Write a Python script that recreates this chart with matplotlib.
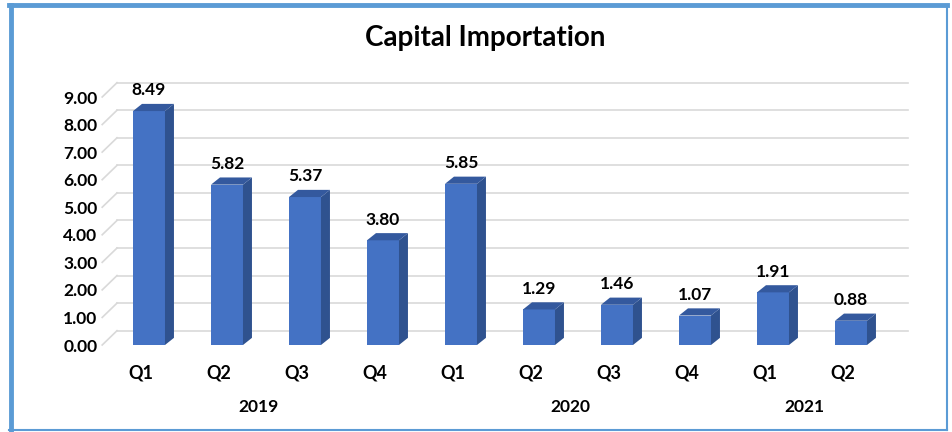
import matplotlib.pyplot as plt
from matplotlib.patches import Polygon
from matplotlib.lines import Line2D

plt.rcParams['font.family'] = ['Lato', 'DejaVu Sans']

# data
quarters = ['Q1', 'Q2', 'Q3', 'Q4', 'Q1', 'Q2', 'Q3', 'Q4', 'Q1', 'Q2']
values = [8.49, 5.82, 5.37, 3.80, 5.85, 1.29, 1.46, 1.07, 1.91, 0.88]
years = ['2019', '2020', '2021']
year_first = [0, 4, 8]
year_last = [3, 7, 9]
y_ticks = [0, 1, 2, 3, 4, 5, 6, 7, 8, 9]

# colours / 3d look
front_col = '#4472C4'
side_col = '#2F528F'
top_col = '#34599E'
grid_col = '#D9D9D9'
bar_w = 0.41
bar_dx, bar_dy = 0.115, 0.26     # depth of a bar, in data units
wall_dx, wall_dy = 0.19, 0.52    # depth of the back wall

fig = plt.figure(figsize=(9.52, 4.32), dpi=100)
ax = fig.add_axes([110 / 952, 87 / 432, 780 / 952, 248 / 432])
ax.set_xlim(-0.5, 9.5)
ax.set_ylim(0, 9)
for s in ax.spines.values():
    s.set_visible(False)

# back wall gridlines with the slanted floor ticks
x_front = -0.6
x_back = x_front + wall_dx
for t in y_ticks:
    ax.add_line(Line2D([x_back, 9.73], [t + wall_dy, t + wall_dy], color=grid_col,
                       lw=1.2, clip_on=False, zorder=1))
    ax.add_line(Line2D([x_front, x_back], [t, t + wall_dy], color=grid_col,
                       lw=1.2, clip_on=False, zorder=1))

# bars: front face, side face and top face
xs = list(range(len(values)))
ax.bar(xs, values, width=bar_w, color=front_col, zorder=3)
for x, v in zip(xs, values):
    r = x + bar_w / 2
    l = x - bar_w / 2
    side = [(r, 0), (r + bar_dx, bar_dy), (r + bar_dx, v + bar_dy), (r, v)]
    top = [(l, v), (r, v), (r + bar_dx, v + bar_dy), (l + bar_dx, v + bar_dy)]
    ax.add_patch(Polygon(side, closed=True, facecolor=side_col, edgecolor='none', zorder=3))
    ax.add_patch(Polygon(top, closed=True, facecolor=top_col, edgecolor='none', zorder=3))
    ax.annotate(f'{v:.2f}', xy=(x, v + bar_dy), xytext=(0, 4), textcoords='offset points',
                ha='center', va='bottom', fontsize=12.5, fontweight='bold')

# axis labels
ax.set_yticks(y_ticks)
ax.set_yticklabels([f'{t:.2f}' for t in y_ticks], fontsize=12.5, fontweight='bold')
ax.tick_params(axis='y', length=0, pad=9)
ax.set_xticks([])

for x, q in zip(xs, quarters):
    ax.annotate(q, xy=(x - 0.1, 0), xycoords=('data', 'axes fraction'),
                xytext=(0, -20), textcoords='offset points',
                ha='center', va='center', fontsize=13, fontweight='bold')
for yr, a, b in zip(years, year_first, year_last):
    ax.annotate(yr, xy=((a + b) / 2 - 0.1, 0), xycoords=('data', 'axes fraction'),
                xytext=(0, -45), textcoords='offset points',
                ha='center', va='center', fontsize=12.5, fontweight='bold')

fig.text(485 / 952, 1 - 38 / 432, 'Capital Importation', ha='center', va='center',
         fontsize=20, fontweight='bold')

# frame around the picture
bc = '#5B9BD5'
fig.add_artist(Line2D([10.5 / 952, 10.5 / 952], [1 - 5 / 432, 1 - 430 / 432], color=bc, lw=3.5))
fig.add_artist(Line2D([9 / 952, 947 / 952], [1 - 5 / 432, 1 - 5 / 432], color=bc, lw=3.5))
fig.add_artist(Line2D([947 / 952, 947 / 952], [1 - 5 / 432, 1 - 430 / 432], color=bc, lw=1.5))
fig.add_artist(Line2D([9 / 952, 947 / 952], [1 - 430 / 432, 1 - 430 / 432], color=bc, lw=1.5))

fig.savefig('out.png', dpi=100)
